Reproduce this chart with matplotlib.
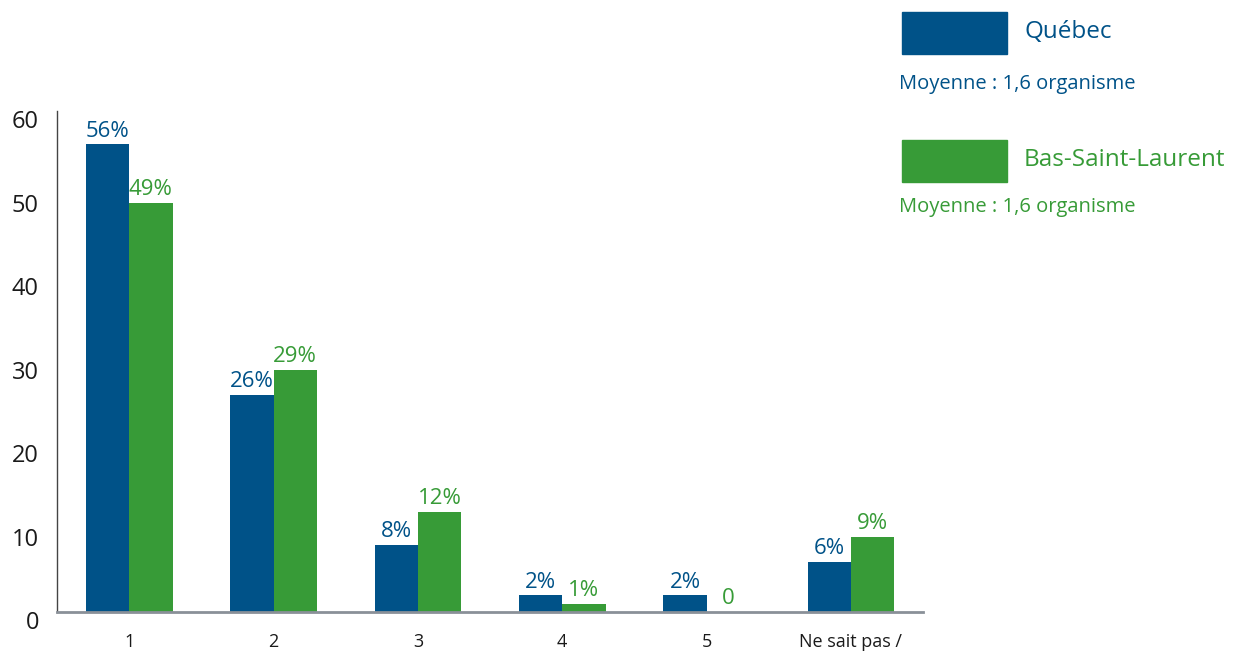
import matplotlib
matplotlib.use("Agg")
import matplotlib.pyplot as plt
import matplotlib.transforms as mtransforms
from matplotlib.patches import Rectangle
import numpy as np

plt.rcParams["font.family"] = ["Open Sans", "DejaVu Sans"]

categories = ["1", "2", "3", "4", "5", "Ne sait pas /"]
series_names = ["Québec", "Bas-Saint-Laurent"]
quebec = [56, 26, 8, 2, 2, 6]
bsl = [49, 29, 12, 1, 0, 9]
moyenne_labels = ["Moyenne : 1,6 organisme", "Moyenne : 1,6 organisme"]
yticks = [0, 10, 20, 30, 40, 50, 60]

BLUE = "#005288"
GREEN = "#379B37"

fig = plt.figure(figsize=(12.51, 6.56), dpi=100)
ax = fig.add_axes([0.0456, 0.0671, 0.6923, 0.7637])

x = np.arange(len(categories))
w = 0.3
b1 = ax.bar(x - w / 2, quebec, width=w, color=BLUE, zorder=2)
b2 = ax.bar(x + w / 2, bsl, width=w, color=GREEN, zorder=2)

for bars, vals, col in [(b1, quebec, BLUE), (b2, bsl, GREEN)]:
    for rect, v in zip(bars, vals):
        lab = f"{v}%" if v else "0"
        ax.annotate(lab, (rect.get_x() + rect.get_width() / 2, rect.get_height()),
                    xytext=(0, 2), textcoords="offset points",
                    ha="center", va="bottom", color=col, fontsize=16)

ax.set_xlim(-0.5, 5.5)
ax.set_ylim(0, 60)
ax.set_xticks(x)
ax.set_xticklabels(categories, fontsize=13, color="#1a1a1a")
ax.set_yticks(yticks)
ax.set_yticklabels([str(t) for t in yticks], fontsize=17, color="#1a1a1a")
ax.tick_params(axis="both", length=0)
ax.tick_params(axis="x", pad=15)
ax.tick_params(axis="y", pad=13)

# y labels sit a bit below their gridline values in the original
offset = mtransforms.ScaledTranslation(0, -6 / 72, fig.dpi_scale_trans)
for lbl in ax.get_yticklabels():
    lbl.set_transform(lbl.get_transform() + offset)

for s in ["top", "right"]:
    ax.spines[s].set_visible(False)
ax.spines["left"].set_color("#444444")
ax.spines["left"].set_linewidth(1.0)
ax.spines["bottom"].set_color("#8a9098")
ax.spines["bottom"].set_linewidth(2.0)

# legend block on the right
W, H = 1251, 656
leg_rows = [(12, 84), (140, 207)]
for (rect_top, moy_y), name, moy, col in zip(leg_rows, series_names, moyenne_labels, [BLUE, GREEN]):
    fig.patches.append(Rectangle((902 / W, 1 - (rect_top + 42) / H), 105 / W, 42 / H,
                                 transform=fig.transFigure, color=col))
    fig.text(1024 / W, 1 - (rect_top + 20) / H, name, color=col, fontsize=17.5,
             ha="left", va="center")
    fig.text(899 / W, 1 - moy_y / H, moy, color=col, fontsize=14.5,
             ha="left", va="center")

fig.savefig("out.png", dpi=100)
